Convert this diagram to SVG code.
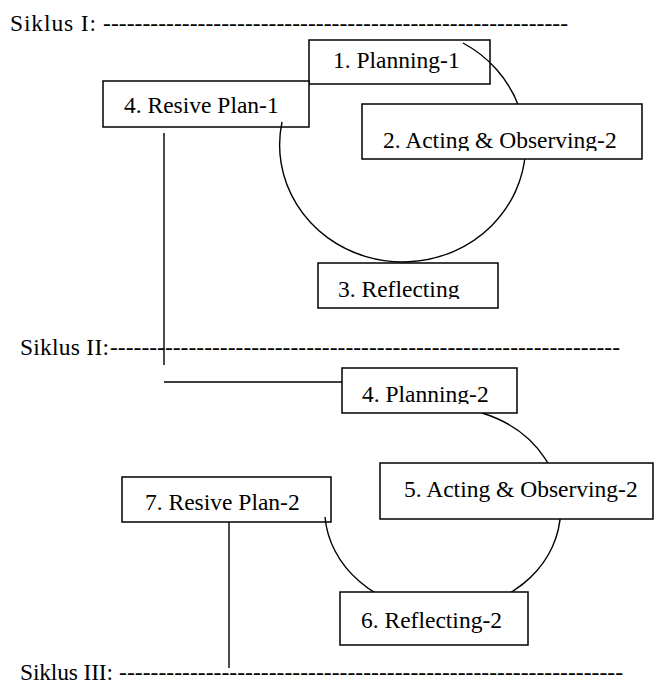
<svg xmlns="http://www.w3.org/2000/svg" width="657" height="686" viewBox="0 0 657 686">
<style>
.box{fill:#fff;stroke:#000;stroke-width:1.5}
.ln{fill:none;stroke:#000;stroke-width:1.4}
</style>
<defs>
<clipPath id="c2"><rect x="362" y="104" width="280" height="47"/></clipPath>
<clipPath id="c3"><rect x="318" y="263" width="180" height="36"/></clipPath>
<clipPath id="c4"><rect x="342" y="368" width="175" height="36"/></clipPath>
</defs>
<rect width="657" height="686" fill="#fff"/>
<g font-family="Liberation Serif, DejaVu Serif, serif" font-size="23.5" fill="#000">
<g id="labels">
<text x="10" y="31" textLength="86" lengthAdjust="spacing">Siklus I:</text>
<text x="103" y="31" textLength="465" lengthAdjust="spacing">-----------------------------------------------------------</text>
<text x="20" y="355" textLength="89" lengthAdjust="spacing">Siklus II:</text>
<text x="110" y="355" textLength="510" lengthAdjust="spacing">-----------------------------------------------------------------</text>
<text x="20" y="680" textLength="93" lengthAdjust="spacing">Siklus III:</text>
<text x="119" y="680" textLength="504" lengthAdjust="spacing">----------------------------------------------------------------</text>
</g>
<g id="n1"><rect class="box" x="309" y="40" width="181" height="44"/><text x="333" y="68">1. Planning-1</text></g>
<g id="n4"><rect class="box" x="103" y="81" width="206" height="46"/><text x="124" y="113">4. Resive Plan-1</text></g>
<g id="n7"><rect class="box" x="122" y="477" width="209" height="45"/><text x="145" y="510">7. Resive Plan-2</text></g>
<g id="connectors">
<path class="ln" d="M282 122 A123 117 0 1 0 463 43"/>
<path class="ln" d="M325 517 A118 102 0 1 0 482 413"/>
<path class="ln" d="M164 133 V365 M164 382 H342"/>
<path class="ln" d="M229 522 V668"/>
</g>
<g id="n2"><rect class="box" x="362" y="104" width="280" height="55"/><text x="383" y="148" clip-path="url(#c2)">2. Acting &amp; Observing-2</text></g>
<g id="n3"><rect class="box" x="318" y="263" width="180" height="45"/><text x="338" y="297" clip-path="url(#c3)">3. Reflecting</text></g>
<g id="n4b"><rect class="box" x="342" y="368" width="175" height="45"/><text x="362" y="402" clip-path="url(#c4)">4. Planning-2</text></g>
<g id="n5"><rect class="box" x="380" y="463" width="273" height="56"/><text x="404" y="497">5. Acting &amp; Observing-2</text></g>
<g id="n6"><rect class="box" x="340" y="592" width="188" height="53"/><text x="361" y="628">6. Reflecting-2</text></g>
</g>
</svg>
